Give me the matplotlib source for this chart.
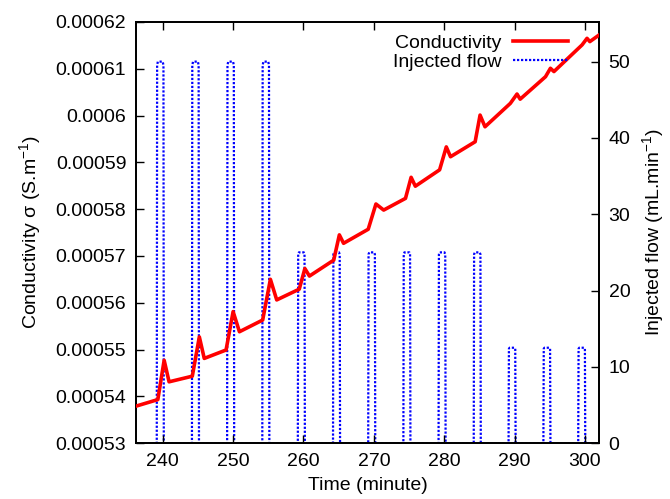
import matplotlib
import matplotlib.pyplot as plt
from matplotlib.ticker import FuncFormatter, MultipleLocator

matplotlib.use('AGG')

plt.rcParams['font.family'] = ['Liberation Sans', 'DejaVu Sans']
plt.rcParams['font.size'] = 14
plt.rcParams['mathtext.default'] = 'regular'

# Conductivité (S/m)
cond_time = [236.2, 239.3, 240.2, 240.9, 244.2, 245.2, 245.9, 249.0, 250.0, 250.9,
             254.2, 255.3, 256.2, 259.4, 260.2, 260.85, 264.3, 265.1, 265.7, 269.2,
             270.3, 271.4, 274.5, 275.3, 275.9, 279.35, 280.3, 280.9, 284.4, 285.1,
             285.8, 289.4, 290.35, 290.8, 294.4, 295.1, 295.6, 299.6, 300.3, 300.7,
             302.0]
cond_sigma = [0.0005379, 0.0005393, 0.0005477, 0.0005431, 0.0005443, 0.0005527,
              0.0005481, 0.0005499, 0.0005581, 0.0005538, 0.0005563, 0.0005650,
              0.0005606, 0.0005629, 0.0005673, 0.0005657, 0.0005691, 0.0005745,
              0.0005727, 0.0005757, 0.0005811, 0.0005798, 0.0005823, 0.0005868,
              0.0005849, 0.0005884, 0.0005933, 0.0005912, 0.0005944, 0.0006001,
              0.0005976, 0.0006026, 0.0006046, 0.0006035, 0.0006083, 0.0006101,
              0.0006094, 0.0006151, 0.0006165, 0.0006158, 0.0006172]

# Débit injecté : impulsions (début, niveau)
pulse_start = [239.15, 244.15, 249.15, 254.15, 259.2, 264.2, 269.2, 274.2,
               279.2, 284.2, 289.15, 294.1, 299.05]
pulse_level = [50, 50, 50, 50, 25, 25, 25, 25, 25, 25, 12.5, 12.5, 12.5]
PULSE_WIDTH = 1.0

flow_time = [236.2]
flow_value = [0]
for s, lvl in zip(pulse_start, pulse_level):
    flow_time += [s, s + 0.05, s + 0.15, s + PULSE_WIDTH - 0.15, s + PULSE_WIDTH - 0.05, s + PULSE_WIDTH]
    flow_value += [0, lvl * 0.99, lvl, lvl, lvl * 0.99, 0]
flow_time.append(302.0)
flow_value.append(0)

fig = plt.figure(figsize=(6.7, 4.99), dpi=100)
ax = fig.add_axes([0.203, 0.112, 0.691, 0.844])
ax2 = ax.twinx()

l2, = ax2.plot(flow_time, flow_value, color='#0000ff', lw=1.6, dashes=(1, 0.8),
               label='Injected flow', zorder=1)
l1, = ax.plot(cond_time, cond_sigma, color='#ff0000', lw=2.6, label='Conductivity',
              zorder=3, solid_joinstyle='round')
ax.set_zorder(ax2.get_zorder() + 1)
ax.patch.set_visible(False)

ax.set_xlim(236.2, 302.0)
ax.set_ylim(0.00053, 0.00062)
ax2.set_ylim(0, 55.2)

ax.xaxis.set_major_locator(MultipleLocator(10))
ax.yaxis.set_major_locator(MultipleLocator(0.00001))
ax.yaxis.set_major_formatter(FuncFormatter(lambda v, p: '%g' % round(v, 6)))
ax2.yaxis.set_major_locator(MultipleLocator(10))

ax.tick_params(direction='in', top=True, right=False, length=6, width=1.0, pad=7)
ax2.tick_params(direction='in', length=6, width=1.0, pad=7)
for a in (ax, ax2):
    for sp in a.spines.values():
        sp.set_linewidth(1.3)

ax.set_xlabel('Time (minute)', labelpad=5)
ax.set_ylabel('Conductivity σ (S.m$^{-1}$)', labelpad=9)
ax2.set_ylabel('Injected flow (mL.min$^{-1}$)', labelpad=7)

ax.legend(handles=[l1, l2], loc='upper right', bbox_to_anchor=(0.96, 1.0),
          frameon=False, markerfirst=False, handlelength=2.8, labelspacing=0.05,
          borderaxespad=0.25, handletextpad=0.6)

fig.savefig('out.png', dpi=100)
